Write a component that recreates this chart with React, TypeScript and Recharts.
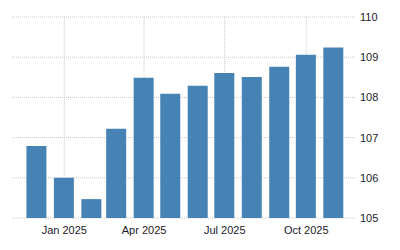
import { BarChart, Bar, XAxis, YAxis, CartesianGrid, ReferenceLine } from "recharts";

// monthly index values, one bar per month (dated on the 1st)
const months = [
  "2024-12-01", "2025-01-01", "2025-02-01", "2025-03-01", "2025-04-01", "2025-05-01",
  "2025-06-01", "2025-07-01", "2025-08-01", "2025-09-01", "2025-10-01", "2025-11-01",
];
const values = [106.79, 106.0, 105.47, 107.22, 108.49, 108.09, 108.29, 108.61, 108.51, 108.76, 109.06, 109.24];

const xTickDates = ["2025-01-01", "2025-04-01", "2025-07-01", "2025-10-01"];
const xTickLabels = ["Jan 2025", "Apr 2025", "Jul 2025", "Oct 2025"];
const xRange = ["2024-11-03", "2025-11-25"];
const yTicks = [105, 106, 107, 108, 109, 110];

const DAY = 86400000;
const toDay = (s: string) => Date.parse(s) / DAY;

const data = months.map((m, i) => ({ t: toDay(m), value: values[i] }));
const xTicks = xTickDates.map(toDay);

const FONT = "'Liberation Sans', Arial, sans-serif";
const GRID = "#c8c8c8";

export default function App() {
  return (
    <div style={{ width: 400, height: 250 }}>
      <style>{`body{margin:0}`}</style>
      <BarChart
        width={400}
        height={250}
        data={data}
        margin={{ top: 17, right: 0, bottom: 0, left: 12 }}
      >
        <CartesianGrid stroke={GRID} strokeDasharray="1 1" vertical={false} />
        {xTicks.map((t) => (
          <ReferenceLine key={t} x={t} stroke={GRID} strokeDasharray="1 1" zIndex={-50} />
        ))}
        <XAxis
          dataKey="t"
          type="number"
          domain={xRange.map(toDay)}
          ticks={xTicks}
          tickFormatter={(v) => xTickLabels[xTicks.indexOf(v)] ?? ""}
          axisLine={false}
          tickLine={false}
          height={32}
          tick={{ fontSize: 11, fill: "#1a1a2a", fontFamily: FONT }}
        />
        <YAxis
          orientation="right"
          domain={[105, 110]}
          ticks={yTicks}
          axisLine={false}
          tickLine={false}
          tickSize={3}
          tickMargin={2}
          width={45}
          tick={{ fontSize: 11, fill: "#1a1a2a", fontFamily: FONT }}
        />
        <Bar dataKey="value" fill="#4682b4" barSize={20} isAnimationActive={false} />
      </BarChart>
    </div>
  );
}
